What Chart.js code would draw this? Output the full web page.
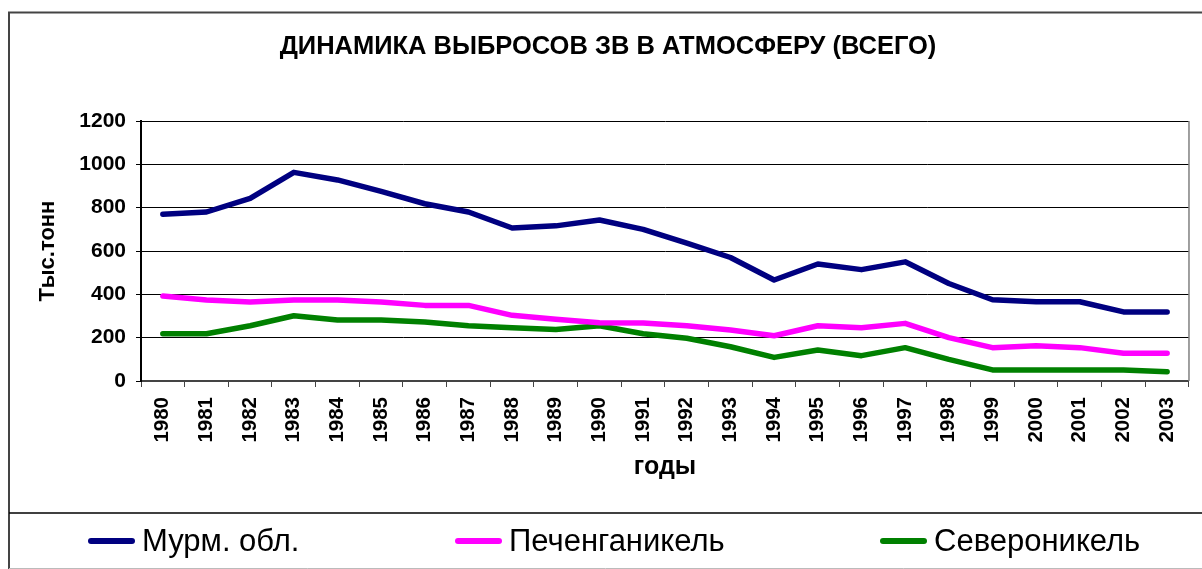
<!DOCTYPE html>
<html>
<head>
<meta charset="utf-8">
<script src="https://cdn.jsdelivr.net/npm/chart.js@4/dist/chart.umd.min.js"></script>
<style>
    html, body { margin: 0; padding: 0; background: #fff; }
    #wrap { width: 1202px; height: 569px; position: relative; }
</style>
</head>
<body>
<div id="wrap"><canvas id="cv-emissions"></canvas></div>
<script>
const years = ['1980', '1981', '1982', '1983', '1984', '1985', '1986', '1987', '1988', '1989', '1990', '1991',
    '1992', '1993', '1994', '1995', '1996', '1997', '1998', '1999', '2000', '2001', '2002', '2003'];
const murmansk = [770, 780, 843, 963, 928, 875, 818, 780, 706, 716, 743, 700,
    636, 570, 466, 540, 514, 550, 450, 375, 366, 366, 319, 319];
const pechenga = [392, 374, 365, 374, 374, 365, 349, 349, 303, 285, 269, 268,
    255, 235, 209, 255, 246, 266, 200, 154, 163, 154, 128, 128];
const severo = [218, 218, 255, 301, 282, 282, 272, 255, 246, 238, 255, 218,
    197, 158, 109, 143, 117, 154, 100, 51, 51, 51, 51, 43];
const seriesNames = ['Мурм. обл.', 'Печенганикель', 'Североникель'];
const seriesColors = ['#000080', '#ff00ff', '#008000'];

const FONT = '"Liberation Sans", Arial, sans-serif';

// frame, plot border and the boxed legend below the chart
const framePlugin = {
    id: 'frame',
    beforeDraw(chart) {
        const ctx = chart.ctx;
        ctx.save();
        ctx.fillStyle = '#fff';
        ctx.fillRect(0, 0, chart.width, chart.height);
        ctx.strokeStyle = '#444';
        ctx.lineWidth = 2;
        ctx.beginPath();
        ctx.moveTo(9, chart.height);
        ctx.lineTo(9, 12.5);
        ctx.lineTo(chart.width, 12.5);
        ctx.stroke();
        ctx.strokeStyle = '#000';
        ctx.lineWidth = 1.5;
        ctx.beginPath();
        ctx.moveTo(9, 513);
        ctx.lineTo(chart.width, 513);
        ctx.stroke();
        ctx.strokeStyle = '#bbb';
        ctx.lineWidth = 1;
        ctx.beginPath();
        ctx.moveTo(9, 568.5);
        ctx.lineTo(chart.width, 568.5);
        ctx.stroke();
        ctx.restore();
    },
    beforeDatasetsDraw(chart) {
        const a = chart.chartArea;
        const ctx = chart.ctx;
        ctx.save();
        ctx.strokeStyle = '#808080';
        ctx.lineWidth = 1.5;
        ctx.beginPath();
        ctx.moveTo(a.right, a.top);
        ctx.lineTo(a.right, a.bottom);
        ctx.stroke();
        ctx.restore();
    },
    afterDraw(chart) {
        const ctx = chart.ctx;
        const starts = [88, 455, 880];
        ctx.save();
        ctx.font = '31px ' + FONT;
        ctx.textBaseline = 'middle';
        ctx.fillStyle = '#000';
        chart.data.datasets.forEach((ds, i) => {
            const x = starts[i];
            const y = 541;
            ctx.strokeStyle = ds.borderColor;
            ctx.lineWidth = 6;
            ctx.lineCap = 'round';
            ctx.beginPath();
            ctx.moveTo(x + 3, y);
            ctx.lineTo(x + 44, y);
            ctx.stroke();
            ctx.fillText(ds.label, x + 54, y + 1);
        });
        ctx.restore();
    }
};

const datasets = [murmansk, pechenga, severo].map((values, i) => ({
    label: seriesNames[i],
    data: values,
    borderColor: seriesColors[i],
    backgroundColor: seriesColors[i],
    borderWidth: 5.5,
    borderCapStyle: 'round',
    borderJoinStyle: 'round',
    pointRadius: 0,
    tension: 0
}));

new Chart(document.getElementById('cv-emissions'), {
    type: 'line',
    data: { labels: years, datasets: datasets },
    plugins: [framePlugin],
    options: {
        responsive: true,
        maintainAspectRatio: false,
        animation: false,
        layout: { padding: { left: 26, right: 12, top: 12, bottom: 56 } },
        plugins: {
            legend: { display: false },
            tooltip: { enabled: false },
            title: {
                display: true,
                text: 'ДИНАМИКА ВЫБРОСОВ ЗВ В АТМОСФЕРУ (ВСЕГО)',
                color: '#000',
                font: { family: FONT, size: 25.5, weight: 'bold' },
                padding: { top: 19.7, bottom: 58.7 }
            }
        },
        scales: {
            x: {
                offset: true,
                grid: { offset: true, drawOnChartArea: false, drawTicks: true, tickLength: 6, color: '#444', lineWidth: 1 },
                border: { color: '#444', width: 2 },
                ticks: {
                    color: '#000',
                    font: { family: FONT, size: 20.5, weight: 'bold' },
                    maxRotation: 90,
                    minRotation: 90,
                    padding: 10,
                    autoSkip: false
                },
                title: {
                    display: true,
                    text: 'годы',
                    color: '#000',
                    font: { family: FONT, size: 25, weight: 'bold' },
                    padding: { top: 0, bottom: 31 }
                },
                afterFit: scale => { scale.height = 132; }
            },
            y: {
                min: 0,
                max: 1200,
                grid: { color: '#000', lineWidth: 1, tickLength: 5 },
                border: { color: '#000', width: 2 },
                ticks: {
                    stepSize: 200,
                    color: '#000',
                    font: { family: FONT, size: 21, weight: 'bold' },
                    padding: 10,
                    callback: v => String(v)
                },
                title: {
                    display: true,
                    text: 'Тыс.тонн',
                    color: '#000',
                    font: { family: FONT, size: 22, weight: 'bold' },
                    padding: { top: 9, bottom: 0 }
                },
                afterFit: scale => { scale.width = 115; }
            }
        }
    }
});
</script>
</body>
</html>
